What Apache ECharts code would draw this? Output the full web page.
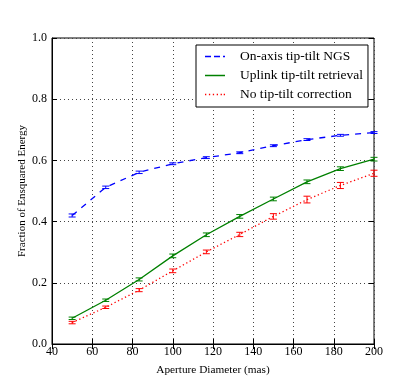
<!DOCTYPE html>
<html>
<head>
<meta charset="utf-8">
<script src="https://cdn.jsdelivr.net/npm/echarts@6/dist/echarts.min.js"></script>
<style>
  html, body { margin: 0; padding: 0; background: #fff; }
  #chart { width: 416px; height: 383px; }
</style>
</head>
<body>
<div id="chart"></div>
<script>
// aperture diameters (mas)
const apertures = [50, 66.7, 83.3, 100, 116.7, 133.3, 150, 166.7, 183.3, 200];

const ngsVals    = [0.420, 0.512, 0.561, 0.589, 0.609, 0.625, 0.648, 0.668, 0.682, 0.691];
const ngsErr     = [0.005, 0.004, 0.004, 0.003, 0.003, 0.003, 0.003, 0.003, 0.003, 0.003];
const uplinkVals = [0.084, 0.143, 0.211, 0.288, 0.357, 0.417, 0.474, 0.530, 0.573, 0.604];
const uplinkErr  = [0.004, 0.004, 0.005, 0.006, 0.006, 0.006, 0.006, 0.006, 0.006, 0.006];
const noTTVals   = [0.070, 0.120, 0.176, 0.239, 0.301, 0.358, 0.417, 0.472, 0.518, 0.558];
const noTTErr    = [0.004, 0.004, 0.005, 0.006, 0.006, 0.007, 0.009, 0.011, 0.010, 0.010];

const serif = '"Liberation Serif", "DejaVu Serif", serif';

// legend glyphs: flat strips so the legend shows only line styles
const iconDash  = 'path://M0,0h6v1.5h-6z M9,0h6v1.5h-6z M18,0h2v1.5h-2z';
const iconSolid = 'path://M0,0h20v1.5h-20z';
const iconDot   = 'path://M0,0h1.3v1.5h-1.3z M3.9,0h1.3v1.5h-1.3z M7.8,0h1.3v1.5h-1.3z M11.7,0h1.3v1.5h-1.3z M15.6,0h1.3v1.5h-1.3z M18.7,0h1.3v1.5h-1.3z';

function pairs(xs, ys) {
  return xs.map((x, i) => [x, ys[i]]);
}

function errData(xs, ys, es) {
  return xs.map((x, i) => [x, ys[i] - es[i], ys[i] + es[i]]);
}

function errSeries(name, xs, ys, es, color) {
  return {
    name: name + ' err',
    type: 'custom',
    data: errData(xs, ys, es),
    z: 3,
    renderItem: function (params, api) {
      const lo = api.coord([api.value(0), api.value(1)]);
      const hi = api.coord([api.value(0), api.value(2)]);
      const w = 3.5;
      const st = { stroke: color, lineWidth: 1 };
      return {
        type: 'group',
        children: [
          { type: 'line', shape: { x1: lo[0], y1: lo[1], x2: hi[0], y2: hi[1] }, style: st },
          { type: 'line', shape: { x1: lo[0] - w, y1: lo[1], x2: lo[0] + w, y2: lo[1] }, style: st },
          { type: 'line', shape: { x1: hi[0] - w, y1: hi[1], x2: hi[0] + w, y2: hi[1] }, style: st }
        ]
      };
    }
  };
}

function lineSeries(name, xs, ys, color, type) {
  return {
    name: name,
    type: 'line',
    data: pairs(xs, ys),
    symbol: 'none',
    z: 4,
    lineStyle: { color: color, width: 1.3, type: type },
    itemStyle: { color: color }
  };
}

const chart = echarts.init(document.getElementById('chart'));

const tickStyle = { show: true, inside: true, length: 5, lineStyle: { color: '#000' } };
const gridLine = { show: true, lineStyle: { color: '#444', type: [1, 3], width: 1 } };

chart.setOption({
  animation: false,
  backgroundColor: '#fff',
  grid: { left: 52, right: 42, top: 38, bottom: 39, show: true, borderColor: '#000', borderWidth: 1, backgroundColor: 'transparent' },
  legend: {
    left: 196,
    top: 45,
    orient: 'vertical',
    itemWidth: 20,
    itemHeight: 1.5,
    itemGap: 4,
    padding: [4, 5, 5, 9],
    borderColor: '#000',
    borderWidth: 1,
    backgroundColor: '#fff',
    textStyle: { fontFamily: serif, fontSize: 13.5, lineHeight: 15, color: '#000', padding: [0, 0, 0, 10] },
    data: [
      { name: 'On-axis tip-tilt NGS', icon: iconDash },
      { name: 'Uplink tip-tilt retrieval', icon: iconSolid },
      { name: 'No tip-tilt correction', icon: iconDot }
    ]
  },
  xAxis: [{
    type: 'value',
    min: 40, max: 200, interval: 20,
    name: 'Aperture Diameter (mas)',
    nameLocation: 'middle',
    nameGap: 21,
    nameTextStyle: { fontFamily: serif, fontSize: 11.3, color: '#000' },
    axisLine: { show: true, lineStyle: { color: '#000' } },
    axisTick: tickStyle,
    axisLabel: { fontFamily: serif, fontSize: 12, color: '#000', margin: 2 },
    splitLine: gridLine
  }, {
    type: 'value', position: 'top',
    min: 40, max: 200, interval: 20,
    axisLine: { show: false },
    axisTick: tickStyle,
    axisLabel: { show: false },
    splitLine: { show: false }
  }],
  yAxis: [{
    type: 'value',
    min: 0, max: 1, interval: 0.2,
    name: 'Fraction of Ensquared Energy',
    nameLocation: 'middle',
    nameGap: 24,
    nameMoveOverlap: false,
    nameTextStyle: { fontFamily: serif, fontSize: 11, color: '#000' },
    axisLine: { show: true, lineStyle: { color: '#000' } },
    axisTick: tickStyle,
    axisLabel: { fontFamily: serif, fontSize: 12, color: '#000', margin: 5, formatter: v => v.toFixed(1) },
    splitLine: gridLine
  }, {
    type: 'value', position: 'right',
    min: 0, max: 1, interval: 0.2,
    axisLine: { show: false },
    axisTick: tickStyle,
    axisLabel: { show: false },
    splitLine: { show: false }
  }],
  series: [
    lineSeries('On-axis tip-tilt NGS', apertures, ngsVals, '#0000ff', [6, 6]),
    lineSeries('Uplink tip-tilt retrieval', apertures, uplinkVals, '#008000', 'solid'),
    lineSeries('No tip-tilt correction', apertures, noTTVals, '#ff0000', [1.3, 2.6]),
    errSeries('On-axis tip-tilt NGS', apertures, ngsVals, ngsErr, '#0000ff'),
    errSeries('Uplink tip-tilt retrieval', apertures, uplinkVals, uplinkErr, '#008000'),
    errSeries('No tip-tilt correction', apertures, noTTVals, noTTErr, '#ff0000')
  ]
});
</script>
</body>
</html>
